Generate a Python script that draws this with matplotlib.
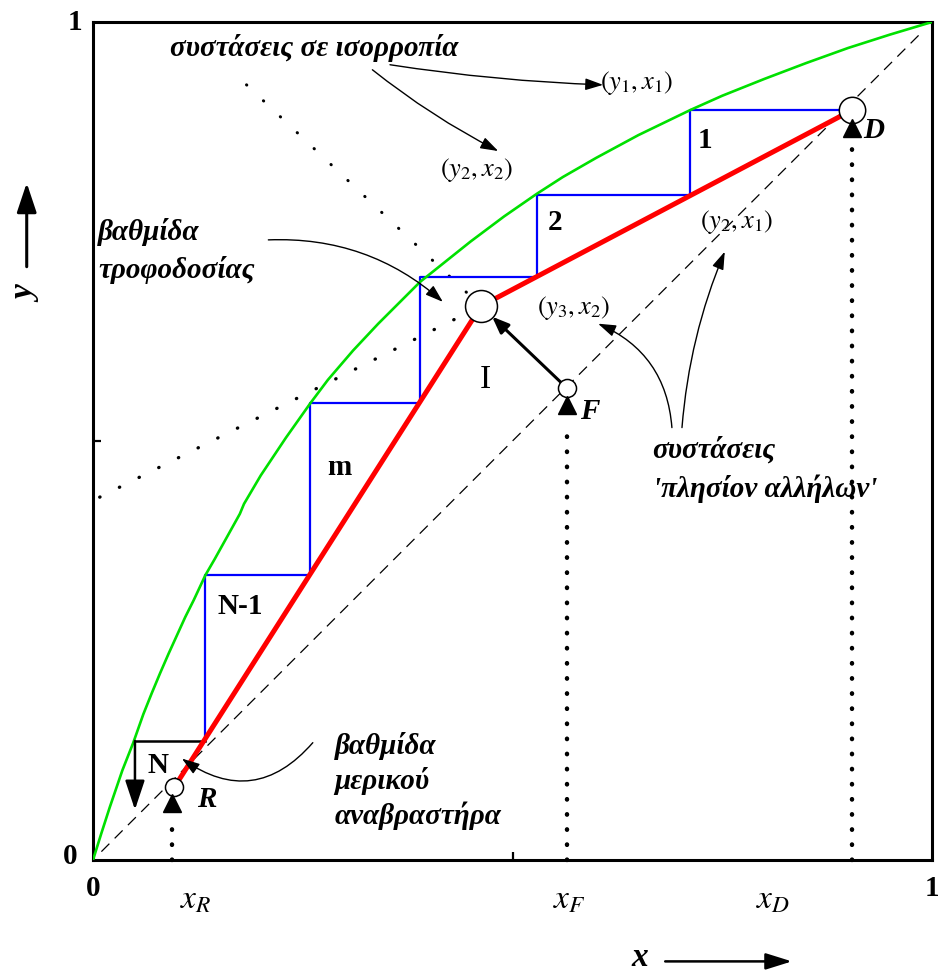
import matplotlib
matplotlib.use("Agg")
import matplotlib.pyplot as plt

plt.rcParams['font.family'] = ['Liberation Serif', 'DejaVu Serif']
plt.rcParams['mathtext.fontset'] = 'stix'

# equilibrium curve y(x)
eq_x = [0, 0.005, 0.01, 0.02, 0.035, 0.048, 0.06, 0.07, 0.08, 0.09, 0.10, 0.11, 0.12,
        0.134, 0.145, 0.16, 0.175, 0.18, 0.2, 0.23, 0.259, 0.28, 0.31, 0.34, 0.39,
        0.42, 0.45, 0.49, 0.529, 0.56, 0.6, 0.65, 0.712, 0.75, 0.8, 0.85, 0.9, 0.95, 1.0]
eq_y = [0, 0.016, 0.032, 0.063, 0.107, 0.140, 0.174, 0.199, 0.223, 0.246, 0.268, 0.290, 0.310,
        0.340, 0.359, 0.386, 0.413, 0.425, 0.459, 0.504, 0.545, 0.573, 0.608, 0.640, 0.690,
        0.714, 0.738, 0.768, 0.795, 0.815, 0.838, 0.865, 0.895, 0.912, 0.932, 0.951, 0.969, 0.985, 1.0]

# distillate, feed, operating-line intersection, bottoms
x_D, y_D = 0.905, 0.895
x_F, y_F = 0.565, 0.563
x_I, y_I = 0.4625, 0.661
x_R, y_R = 0.097, 0.087

# stage corners (stepping from the top down)
stage_x = [0.905, 0.712, 0.529, 0.39, 0.259, 0.134]
stage_y = [0.895, 0.793, 0.696, 0.545, 0.340, 0.142]
x_N, y_N_end = 0.050, 0.060
stage_names = ['1', '2', 'm', 'N-1', 'N']

# dotted extensions of the rectifying line and of the q-line
rect_ext = (0.008, 0.433)
q_ext = (0.183, 0.925)

fig = plt.figure(figsize=(9.38, 9.72), dpi=100)
ax = fig.add_axes([93 / 938, 112 / 972, 839 / 938, 838 / 972])
ax.set_xlim(0, 1)
ax.set_ylim(0, 1)
for s in ax.spines.values():
    s.set_linewidth(2.2)
ax.set_xticks([0.5])
ax.set_yticks([0.5])
ax.tick_params(direction='in', length=6, width=1.6, labelbottom=False, labelleft=False)

# diagonal
ax.plot([0.01, 0.99], [0.01, 0.99], color='k', lw=0.9, dashes=(9, 6))

# equilibrium curve
ax.plot(eq_x, eq_y, color='#00e000', lw=1.9, zorder=3)

# operating lines
ax.plot([x_D, x_I, x_R], [y_D, y_I, y_R], color='#ff0000', lw=3.6,
        solid_capstyle='butt', zorder=3)

# stages
sx, sy = [stage_x[0]], [stage_y[0]]
for i in range(1, len(stage_x)):
    sx += [stage_x[i], stage_x[i]]
    sy += [stage_y[i - 1], stage_y[i]]
ax.plot(sx, sy, color='#0000ff', lw=1.6, zorder=2)
ax.plot([stage_x[-1], x_N], [stage_y[-1], stage_y[-1]], color='k', lw=1.8, zorder=2)
ax.annotate('', xy=(x_N, y_N_end), xytext=(x_N, stage_y[-1]),
            arrowprops=dict(arrowstyle='-|>,head_length=0.9,head_width=0.3',
                            lw=1.8, color='k', mutation_scale=20, shrinkA=0, shrinkB=0))

# dotted extensions
ax.plot([rect_ext[0], x_I], [rect_ext[1], y_I], color='k', lw=2.4,
        dashes=(0.1, 6.5), dash_capstyle='round', zorder=1)
ax.plot([q_ext[0], x_I], [q_ext[1], y_I], color='k', lw=2.2,
        dashes=(0.1, 7.5), dash_capstyle='round', zorder=1)

# q-line F -> I
ax.annotate('', xy=(x_I, y_I), xytext=(x_F, y_F),
            arrowprops=dict(arrowstyle='-|>,head_length=0.5,head_width=0.2', lw=2.2,
                            color='k', mutation_scale=20, shrinkA=6, shrinkB=11))

# vertical dotted drops to the x axis with arrowheads
for xv, ytop, ytri in [(x_D, 0.855, 0.873), (x_F, 0.52, 0.543), (x_R - 0.003, 0.05, 0.068)]:
    ax.plot([xv, xv], [0.0, ytop], color='k', lw=3.2, dashes=(0.1, 3.3),
            dash_capstyle='round', clip_on=False)
    ax.plot(xv, ytri, marker='^', ms=13, color='k', zorder=6)

# composition circles
for (xc, yc, ms) in [(x_D, y_D, 19), (x_I, y_I, 23), (x_F, y_F, 13), (x_R, y_R, 13)]:
    ax.plot(xc, yc, 'o', ms=ms, mfc='white', mec='k', mew=1.1, zorder=5)

gr = dict(fontsize=21, fontweight='bold', fontstyle='italic')
num = dict(fontsize=21, fontweight='bold')

ax.text(0.092, 0.969, 'συστάσεις σε ισορροπία', ha='left', va='center', **gr)
ax.text(0.006, 0.727, 'βαθμίδα\nτροφοδοσίας', ha='left', va='center', linespacing=1.45, **gr)
ax.text(0.288, 0.094, 'βαθμίδα\nμερικού\nαναβραστήρα', ha='left', va='center',
        linespacing=1.3, **gr)
ax.text(0.667, 0.466, "συστάσεις\n'πλησίον αλλήλων'", ha='left', va='center',
        linespacing=1.45, **gr)

# stage numbers
for name, (xt, yt) in zip(stage_names, [(0.729, 0.859), (0.551, 0.761), (0.294, 0.468),
                                         (0.175, 0.302), (0.077, 0.113)]):
    ax.text(xt, yt, name, ha='center', va='center', **num)
ax.text(0.467, 0.573, 'I', ha='center', va='center', fontsize=24)

# stream labels
for t, (xt, yt) in [('D', (0.930, 0.871)), ('F', (0.592, 0.535)), ('R', (0.135, 0.072))]:
    ax.text(xt, yt, t, ha='center', va='center', **gr)

# composition pair labels
lab = dict(fontsize=19, ha='left', va='center')
ax.text(0.604, 0.927, r'$(y_1,x_1)$', **lab)
ax.text(0.414, 0.823, r'$(y_2,x_2)$', **lab)
ax.text(0.723, 0.761, r'$(y_2,x_1)$', **lab)
ax.text(0.529, 0.659, r'$(y_3,x_2)$', **lab)

thin = dict(arrowstyle='-|>,head_length=0.6,head_width=0.2', lw=1.0, color='k',
            mutation_scale=18, shrinkA=0, shrinkB=0)
ax.annotate('', xy=(0.608, 0.925), xytext=(0.354, 0.949),
            arrowprops=dict(connectionstyle='arc3,rad=0.03', **thin))
ax.annotate('', xy=(0.483, 0.846), xytext=(0.333, 0.943),
            arrowprops=dict(connectionstyle='arc3,rad=0.05', **thin))
ax.annotate('', xy=(0.417, 0.666), xytext=(0.209, 0.740),
            arrowprops=dict(connectionstyle='arc3,rad=-0.2', **thin))
ax.annotate('', xy=(0.106, 0.121), xytext=(0.262, 0.140),
            arrowprops=dict(connectionstyle='arc3,rad=-0.45', **thin))
ax.annotate('', xy=(0.602, 0.640), xytext=(0.690, 0.516),
            arrowprops=dict(connectionstyle='arc3,rad=0.3', **thin))
ax.annotate('', xy=(0.753, 0.726), xytext=(0.702, 0.516),
            arrowprops=dict(connectionstyle='arc3,rad=-0.08', **thin))

# axis corner labels
ax.text(-0.027, 0.004, '0', ha='center', va='center', **num)
ax.text(0.0, -0.034, '0', ha='center', va='center', **num)
ax.text(-0.021, 1.0, '1', ha='center', va='center', **num)
ax.text(1.0, -0.034, '1', ha='center', va='center', **num)

# composition ticks along x
xl = dict(fontsize=24, ha='center', va='center')
ax.text(0.122, -0.048, r'$x_R$', **xl)
ax.text(0.568, -0.048, r'$x_F$', **xl)
ax.text(0.810, -0.048, r'$x_D$', **xl)

# axis titles with arrows
ax.text(0.652, -0.126, 'x', ha='center', va='baseline', fontsize=24,
        fontweight='bold', fontstyle='italic')
ax.annotate('', xy=(0.833, -0.121), xytext=(0.682, -0.121), annotation_clip=False,
            arrowprops=dict(arrowstyle='-|>,head_length=0.8,head_width=0.25', lw=1.8,
                            color='k', mutation_scale=20, shrinkA=0, shrinkB=0))
ax.text(-0.079, 0.675, 'y', ha='center', va='center', fontsize=24, rotation=90,
        fontweight='bold', fontstyle='italic')
ax.annotate('', xy=(-0.079, 0.808), xytext=(-0.079, 0.708), annotation_clip=False,
            arrowprops=dict(arrowstyle='-|>,head_length=0.9,head_width=0.3', lw=2.2,
                            color='k', mutation_scale=20, shrinkA=0, shrinkB=0))

fig.savefig('out.png', dpi=100)
